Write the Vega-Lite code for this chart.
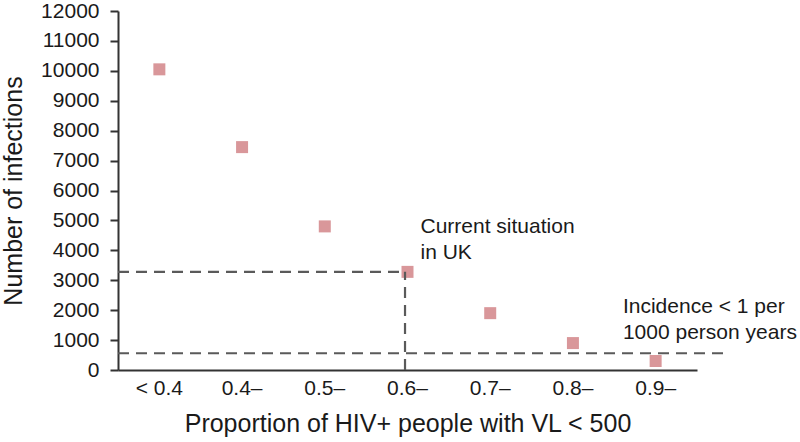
{
  "$schema": "https://vega.github.io/schema/vega-lite/v6.json",
  "width": 579,
  "height": 359,
  "autosize": "none",
  "padding": {"left": 118, "top": 11, "right": 103, "bottom": 72},
  "background": "white",
  "config": {
    "view": {"stroke": null},
    "font": "Liberation Sans",
    "axis": {"grid": false, "domainColor": "#333333", "domainWidth": 2, "tickColor": "#333333", "tickWidth": 2, "labelFont": "Liberation Sans", "titleFont": "Liberation Sans", "labelColor": "#1a1a1a", "titleColor": "#1a1a1a", "labelFontSize": 21, "titleFontSize": 25, "titleFontWeight": "normal"},
    "axisY": {"tickSize": 8, "labelPadding": 11, "titlePadding": 14, "labelOverlap": false, "labelBound": false, "labelFlush": false, "format": "d"},
    "axisX": {"bandPosition": 0.5, "labelAngle": 0, "ticks": false, "tickSize": 0, "labelPadding": 7, "titlePadding": 13}
  },
  "datasets": {
    "pts": [
      {"p": "< 0.4", "n": 10050},
      {"p": "0.4–", "n": 7450},
      {"p": "0.5–", "n": 4800},
      {"p": "0.6–", "n": 3280},
      {"p": "0.7–", "n": 1900},
      {"p": "0.8–", "n": 900},
      {"p": "0.9–", "n": 300}
    ]
  },
  "layer": [
    {
      "data": {"name": "pts"},
      "mark": {"type": "point", "shape": "square", "filled": true, "size": 144, "color": "#d9979a", "opacity": 1},
      "encoding": {
        "x": {
          "field": "p", "type": "ordinal",
          "scale": {"type": "band", "domain": ["< 0.4", "0.4–", "0.5–", "0.6–", "0.7–", "0.8–", "0.9–"], "paddingInner": 0, "paddingOuter": 0},
          "sort": null,
          "axis": {"title": "Proportion of HIV+ people with VL < 500", "bandPosition": 0.5}
        },
        "y": {
          "field": "n", "type": "quantitative",
          "scale": {"domain": [0, 12000], "nice": false},
          "axis": {"title": "Number of infections", "values": [0,1000,2000,3000,4000,5000,6000,7000,8000,9000,10000,11000,12000]}
        }
      }
    },
    {
      "data": {"values": [{"a": "< 0.4", "b": "0.6–", "y": 3280}]},
      "mark": {"type": "rule", "color": "#5a5a5a", "strokeWidth": 2.2, "strokeDash": [11, 7]},
      "encoding": {
        "x": {"field": "a", "type": "ordinal", "bandPosition": 0, "axis": {"title": "Proportion of HIV+ people with VL < 500", "bandPosition": 0.5}},
        "x2": {"field": "b", "bandPosition": 0.47},
        "y": {"field": "y", "type": "quantitative", "axis": {"title": "Number of infections", "values": [0,1000,2000,3000,4000,5000,6000,7000,8000,9000,10000,11000,12000]}}
      }
    },
    {
      "data": {"values": [{"a": "0.6–", "y0": 0, "y1": 3280}]},
      "mark": {"type": "rule", "color": "#5a5a5a", "strokeWidth": 2.2, "strokeDash": [11, 7]},
      "encoding": {
        "x": {"field": "a", "type": "ordinal", "bandPosition": 0.47, "axis": {"title": "Proportion of HIV+ people with VL < 500", "bandPosition": 0.5}},
        "y": {"field": "y0", "type": "quantitative", "axis": {"title": "Number of infections", "values": [0,1000,2000,3000,4000,5000,6000,7000,8000,9000,10000,11000,12000]}},
        "y2": {"field": "y1"}
      }
    },
    {
      "data": {"values": [{"a": "< 0.4", "b": "0.9–", "y": 560}]},
      "mark": {"type": "rule", "color": "#5a5a5a", "strokeWidth": 2.2, "strokeDash": [11, 7]},
      "encoding": {
        "x": {"field": "a", "type": "ordinal", "bandPosition": 0, "axis": {"title": "Proportion of HIV+ people with VL < 500", "bandPosition": 0.5}},
        "x2": {"field": "b", "bandPosition": 1.32},
        "y": {"field": "y", "type": "quantitative", "axis": {"title": "Number of infections", "values": [0,1000,2000,3000,4000,5000,6000,7000,8000,9000,10000,11000,12000]}}
      }
    },
    {
      "data": {"values": [{"a": "0.6–", "y": 4570, "t": ["Current situation", "in UK"]}]},
      "mark": {"type": "text", "align": "left", "baseline": "alphabetic", "dx": 13, "fontSize": 21, "lineHeight": 26, "color": "#1a1a1a"},
      "encoding": {
        "x": {"field": "a", "type": "ordinal", "axis": {"title": "Proportion of HIV+ people with VL < 500", "bandPosition": 0.5}},
        "y": {"field": "y", "type": "quantitative", "axis": {"title": "Number of infections", "values": [0,1000,2000,3000,4000,5000,6000,7000,8000,9000,10000,11000,12000]}},
        "text": {"field": "t"}
      }
    },
    {
      "data": {"values": [{"a": "0.8–", "y": 1920, "t": ["Incidence < 1 per", "1000 person years"]}]},
      "mark": {"type": "text", "align": "left", "baseline": "alphabetic", "dx": 50, "fontSize": 21, "lineHeight": 26, "color": "#1a1a1a"},
      "encoding": {
        "x": {"field": "a", "type": "ordinal", "axis": {"title": "Proportion of HIV+ people with VL < 500", "bandPosition": 0.5}},
        "y": {"field": "y", "type": "quantitative", "axis": {"title": "Number of infections", "values": [0,1000,2000,3000,4000,5000,6000,7000,8000,9000,10000,11000,12000]}},
        "text": {"field": "t"}
      }
    }
  ]
}
